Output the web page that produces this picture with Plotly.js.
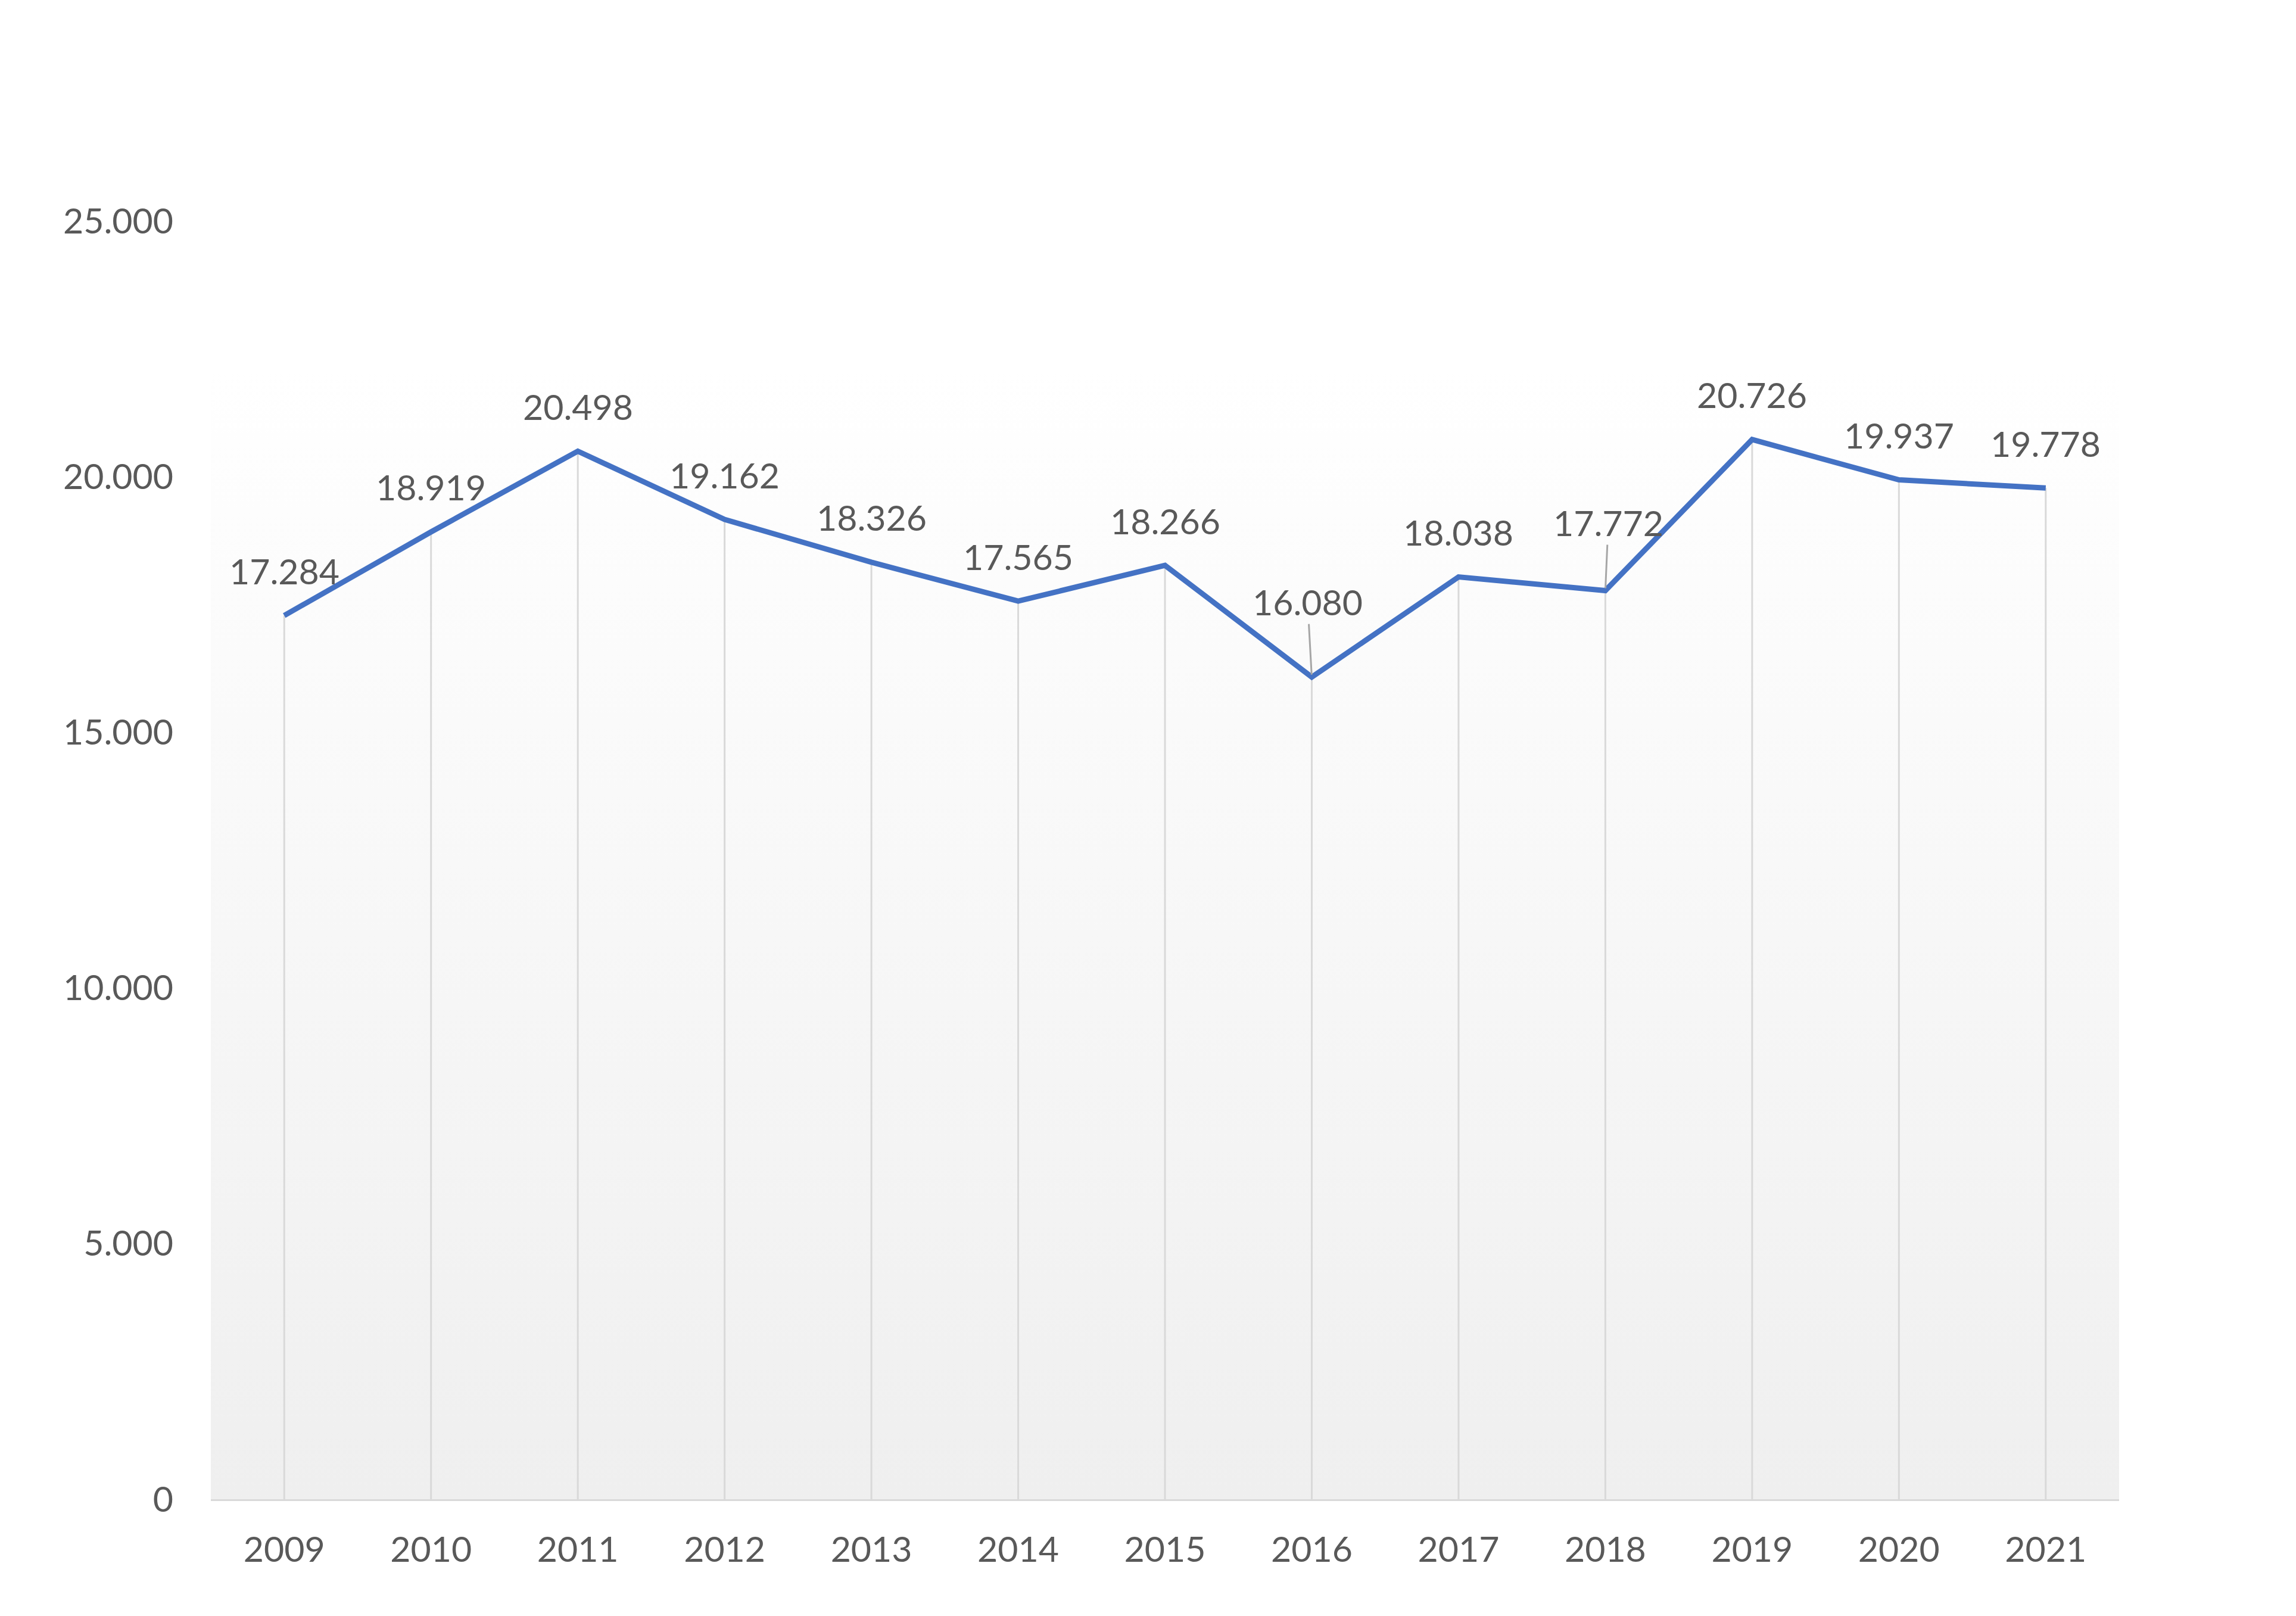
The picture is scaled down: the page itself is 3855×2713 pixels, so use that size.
<!DOCTYPE html>
<html>
<head>
<meta charset="utf-8">
<script src="https://cdn.plot.ly/plotly-3.0.1.min.js"></script>
<style>
  html, body { margin: 0; padding: 0; background: #ffffff; }
  #chart { width: 3855px; height: 2713px; }
</style>
</head>
<body>
<div id="chart"></div>
<script>
// Yearly values
const years  = ['2009', '2010', '2011', '2012', '2013', '2014', '2015',
                '2016', '2017', '2018', '2019', '2020', '2021'];
const values = [17284, 18919, 20498, 19162, 18326, 17565, 18266,
                16080, 18038, 17772, 20726, 19937, 19778];

const yTicks = [0, 5000, 10000, 15000, 20000, 25000];

const COLORS = {
  line:   '#4472c4',
  text:   '#595959',
  grid:   '#d9d9d9',
  leader: '#a6a6a6',
};

const FONT = 'Lato, "Open Sans", sans-serif';
const FONT_SIZE = 59;

// The shaded plot area stops below the top tick
const AREA_TOP = 0.883;   // paper fraction

// Labels that Excel pushed away from the line, with a leader line (pixel offsets)
const LEADERS = {
  '2016': { ax: -7, ay: -126 },
  '2018': { ax:  5, ay: -114 },
};

// German style thousands separator: 17.284
function fmt(v) {
  return String(v).replace(/\B(?=(\d{3})+(?!\d))/g, '.');
}

// Soft vertical gradient behind the plot area
const gradientSvg =
  '<svg xmlns="http://www.w3.org/2000/svg" width="100" height="100" preserveAspectRatio="none">' +
  '<defs><linearGradient id="g" x1="0" y1="0" x2="0" y2="1">' +
  '<stop offset="0" stop-color="#ffffff"/><stop offset="1" stop-color="#efefef"/>' +
  '</linearGradient></defs><rect width="100" height="100" fill="url(#g)"/></svg>';
const gradientUri = 'data:image/svg+xml;base64,' + btoa(gradientSvg);

const trace = {
  x: years,
  y: values,
  type: 'scatter',
  mode: 'lines',
  line: { color: COLORS.line, width: 9 },
  hoverinfo: 'skip',
};

// on a category axis the annotation / shape x is the category index
const annotations = years.map((yr, i) => {
  const lead = LEADERS[yr];
  const base = {
    x: i, y: values[i], xref: 'x', yref: 'y',
    text: fmt(values[i]),
    font: { family: FONT, size: FONT_SIZE, color: COLORS.text },
  };
  if (lead) {
    return {
      ...base,
      showarrow: true, arrowhead: 0, arrowwidth: 3,
      arrowcolor: COLORS.leader, standoff: 4,
      ax: lead.ax, ay: lead.ay,
    };
  }
  return { ...base, showarrow: false, yanchor: 'middle', yshift: 75 };
});

// drop lines from each point down to the axis
const dropLines = years.map((yr, i) => ({
  type: 'line', layer: 'below',
  xref: 'x', yref: 'y',
  x0: i, x1: i, y0: 0, y1: values[i],
  line: { color: COLORS.grid, width: 3 },
}));

const layout = {
  width: 3855,
  height: 2713,
  paper_bgcolor: '#ffffff',
  plot_bgcolor: 'rgba(0,0,0,0)',
  separators: ',.',
  font: { family: FONT, size: FONT_SIZE, color: COLORS.text },
  margin: { l: 354, r: 297, t: 371, b: 196, pad: 0 },
  showlegend: false,
  xaxis: {
    type: 'category',
    range: [-0.5, years.length - 0.5],
    autorange: false,
    showgrid: false,
    showline: true,
    linecolor: COLORS.grid,
    linewidth: 3,
    ticks: '',
    ticklabelstandoff: 31,
    tickfont: { family: FONT, size: FONT_SIZE, color: COLORS.text },
    fixedrange: true,
  },
  yaxis: {
    range: [0, 25000],
    autorange: false,
    tickvals: yTicks,
    ticktext: yTicks.map(fmt),
    showgrid: false,
    zeroline: false,
    showline: false,
    ticks: '',
    ticklabelstandoff: 62,
    tickfont: { family: FONT, size: FONT_SIZE, color: COLORS.text },
    fixedrange: true,
  },
  images: [{
    source: gradientUri,
    xref: 'paper', yref: 'paper',
    x: 0, y: AREA_TOP, sizex: 1, sizey: AREA_TOP,
    xanchor: 'left', yanchor: 'top',
    sizing: 'stretch',
    layer: 'below',
  }],
  shapes: dropLines,
  annotations,
};

Plotly.newPlot('chart', [trace], layout, { displayModeBar: false, staticPlot: true });
</script>
</body>
</html>
